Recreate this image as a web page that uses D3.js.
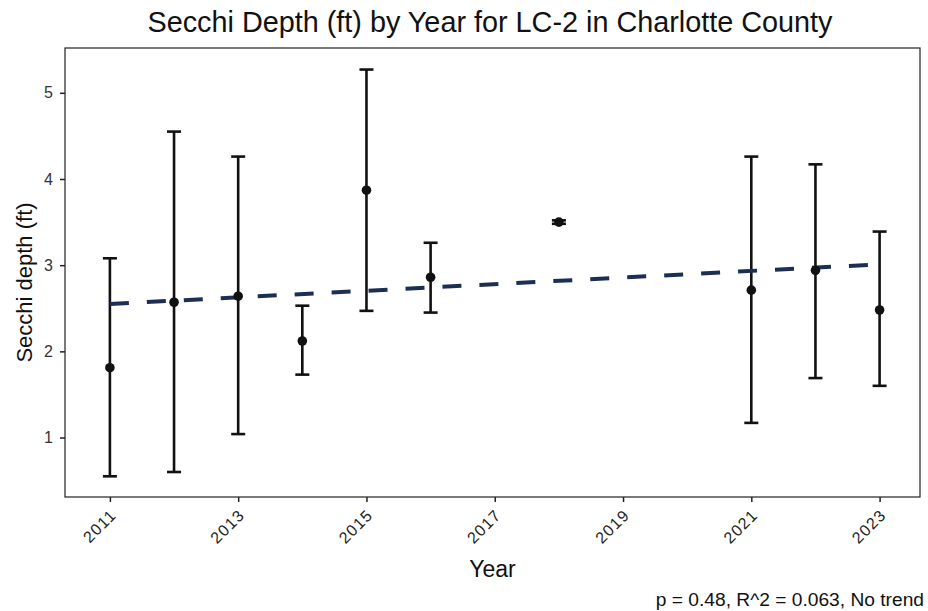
<!DOCTYPE html>
<html>
<head>
<meta charset="utf-8">
<script src="https://cdn.jsdelivr.net/npm/d3@7"></script>
<style>
  body { margin: 0; background: #fff; }
  text { font-family: "Liberation Sans", Arial, Helvetica, sans-serif; }
</style>
</head>
<body>
<div id="chart"></div>
<script>
// data
var years  = [2011, 2012, 2013, 2014, 2015, 2016, 2018, 2021, 2022, 2023];
var means  = [1.81, 2.57, 2.64, 2.12, 3.87, 2.86, 3.50, 2.71, 2.94, 2.48];
var lowers = [0.55, 0.60, 1.04, 1.73, 2.47, 2.45, 3.48, 1.17, 1.69, 1.60];
var uppers = [3.08, 4.55, 4.26, 2.53, 5.27, 3.26, 3.52, 4.26, 4.17, 3.39];
var trendYears  = [2011, 2023];
var trendValues = [2.55, 3.01];
var xTicks = [2011, 2013, 2015, 2017, 2019, 2021, 2023];
var yTicks = [1, 2, 3, 4, 5];

var W = 928, H = 611;
var margin = {top: 48, right: 8, bottom: 114, left: 65};
var width = W - margin.left - margin.right;
var height = H - margin.top - margin.bottom;

var svg = d3.select("#chart").append("svg")
  .attr("width", W).attr("height", H);

var g = svg.append("g")
  .attr("transform", "translate(" + margin.left + "," + margin.top + ")");

var x = d3.scaleLinear().domain([2010.3, 2023.63]).range([0, width]);
var y = d3.scaleLinear().domain([0.31, 5.52]).range([height, 0]);

var data = years.map(function(yr, i) {
  return {year: yr, mean: means[i], lo: lowers[i], hi: uppers[i]};
});

// panel border
g.append("rect")
  .attr("width", width).attr("height", height)
  .attr("fill", "none").attr("stroke", "#222").attr("stroke-width", 1.2);

// axes
var xAxis = g.append("g")
  .attr("transform", "translate(0," + height + ")")
  .call(d3.axisBottom(x).tickValues(xTicks).tickFormat(d3.format("d")).tickSize(5).tickSizeOuter(0));
xAxis.select(".domain").remove();
xAxis.selectAll("line").attr("stroke", "#222").attr("stroke-width", 1.5);
xAxis.selectAll("text")
  .attr("fill", "#222")
  .style("font-size", "16px")
  .style("letter-spacing", "1.2px")
  .attr("text-anchor", "end")
  .attr("x", 0).attr("y", 0).attr("dx", 0).attr("dy", 0)
  .attr("transform", "translate(7,19) rotate(-45)");

var yAxis = g.append("g")
  .call(d3.axisLeft(y).tickValues(yTicks).tickFormat(d3.format("d")).tickSize(5).tickSizeOuter(0));
yAxis.select(".domain").remove();
yAxis.selectAll("line").attr("stroke", "#222").attr("stroke-width", 1.5);
yAxis.selectAll("text").attr("fill", "#333").style("font-size", "16px").attr("dx", "-4");

// error bars
var capW = 7;
var bars = g.append("g").selectAll("g.eb").data(data).enter().append("g").attr("class", "eb");
bars.append("line")
  .attr("x1", function(d) { return x(d.year); })
  .attr("x2", function(d) { return x(d.year); })
  .attr("y1", function(d) { return y(d.lo); })
  .attr("y2", function(d) { return y(d.hi); })
  .attr("stroke", "#111").attr("stroke-width", 2.6);
bars.append("line")
  .attr("x1", function(d) { return x(d.year) - capW; })
  .attr("x2", function(d) { return x(d.year) + capW; })
  .attr("y1", function(d) { return y(d.hi); })
  .attr("y2", function(d) { return y(d.hi); })
  .attr("stroke", "#111").attr("stroke-width", 2.6);
bars.append("line")
  .attr("x1", function(d) { return x(d.year) - capW; })
  .attr("x2", function(d) { return x(d.year) + capW; })
  .attr("y1", function(d) { return y(d.lo); })
  .attr("y2", function(d) { return y(d.lo); })
  .attr("stroke", "#111").attr("stroke-width", 2.6);

// trend line
var line = d3.line()
  .x(function(d) { return x(d[0]); })
  .y(function(d) { return y(d[1]); });
g.append("path")
  .datum(trendYears.map(function(yr, i) { return [yr, trendValues[i]]; }))
  .attr("d", line)
  .attr("fill", "none")
  .attr("stroke", "#1c2f52")
  .attr("stroke-width", 4)
  .attr("stroke-dasharray", "19,18");

// points
g.append("g").selectAll("circle").data(data).enter().append("circle")
  .attr("cx", function(d) { return x(d.year); })
  .attr("cy", function(d) { return y(d.mean); })
  .attr("r", 4.8)
  .attr("fill", "#111");

// titles
svg.append("text")
  .attr("x", 490).attr("y", 32)
  .attr("text-anchor", "middle")
  .style("font-size", "28.8px").attr("fill", "#111")
  .text("Secchi Depth (ft) by Year for LC-2 in Charlotte County");

svg.append("text")
  .attr("transform", "translate(32," + (margin.top + height / 2 + 10) + ") rotate(-90)")
  .attr("text-anchor", "middle")
  .style("font-size", "22px").attr("fill", "#111")
  .text("Secchi depth (ft)");

svg.append("text")
  .attr("x", margin.left + width / 2).attr("y", 577)
  .attr("text-anchor", "middle")
  .style("font-size", "23px").attr("fill", "#111")
  .text("Year");

svg.append("text")
  .attr("x", 924).attr("y", 606)
  .attr("text-anchor", "end")
  .style("font-size", "19.2px").attr("fill", "#111")
  .text("p = 0.48, R^2 = 0.063, No trend");
</script>
</body>
</html>
